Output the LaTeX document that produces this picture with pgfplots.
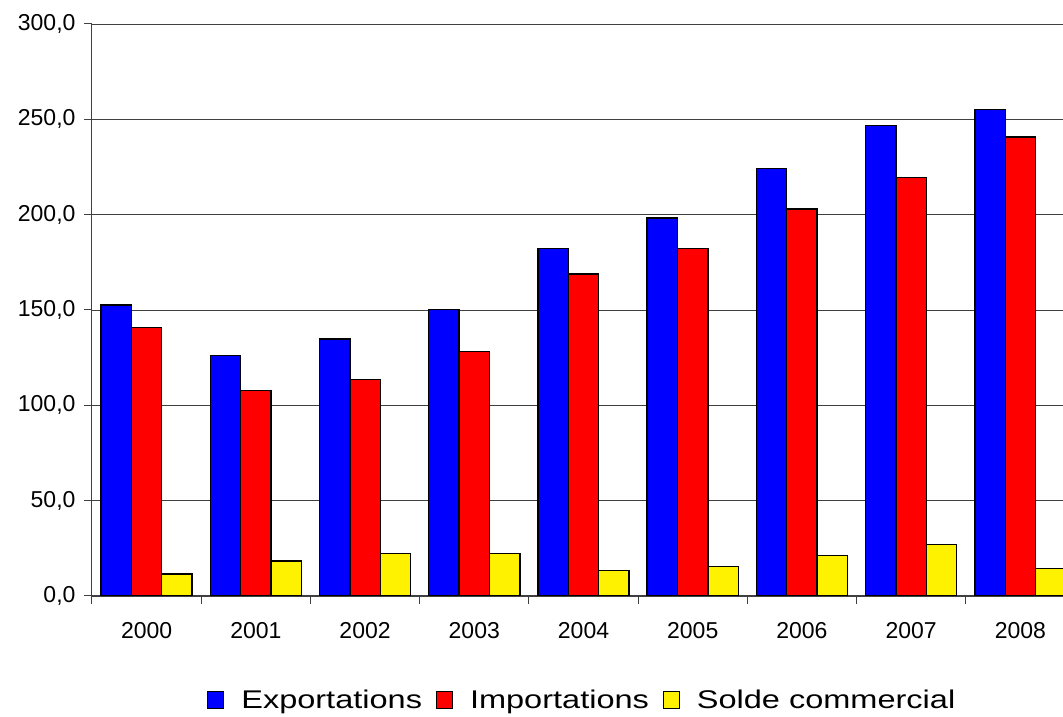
\documentclass[border=0pt]{standalone}
\usepackage{fontspec}
\setmainfont{Liberation Sans}
\usepackage{pgfplots}
\pgfplotsset{compat=1.18}

\begin{document}
\begin{tikzpicture}[x=1pt,y=1pt]
\path[use as bounding box] (-92,-121) rectangle (971,596);
\begin{axis}[
	at={(0,0)}, anchor=south west,
	scale only axis, width=971pt, height=572pt,
	ybar, bar width=0.278,
	every axis plot/.append style={
		draw=black, line width=1.4pt,
		legend image code/.code={\draw[##1,line width=1pt] (0pt,-8.5pt) rectangle (16pt,8.5pt);}
	},
	xmin=-0.5, xmax=8.39, ymin=0, ymax=300,
	xtick={0,...,8},
	xticklabels={2000,2001,2002,2003,2004,2005,2006,2007,2008},
	minor xtick={-0.5,0.5,...,8.5},
	major x tick style={draw=none},
	ytick={0,50,...,300},
	ymajorgrids, grid style={black!75, line width=0.9pt},
	axis x line*=bottom, axis y line*=left,
	axis line style={black!75, line width=1pt, -},
	tick style={black!75, line width=1pt},
	tick align=outside, major tick length=8pt, minor tick length=8pt,
	/pgf/number format/assume math mode=true,
	ticklabel style={font=\fontsize{23}{27}\selectfont},
	xticklabel style={yshift=-15pt},
	yticklabel style={xshift=-5pt, /pgf/number format/fixed, /pgf/number format/fixed zerofill,
		/pgf/number format/precision=1, /pgf/number format/use comma},
	legend style={at={(0.506,-0.182)}, anchor=center, draw=none,
		font=\fontsize{25.6}{30}\selectfont, legend columns=-1,
		nodes={inner xsep=4pt},
		/tikz/every even column/.append style={column sep=10pt},
		/tikz/every odd column/.append style={column sep=13pt}},
	legend cell align=left,
]
\addplot[fill=blue, bar shift=-0.278] coordinates {
	(0,152.7) (1,126.1) (2,134.8) (3,150.4) (4,182.4) (5,198.2) (6,224.2) (7,246.8) (8,255.3)};
\addplot[fill=red, bar shift=0] coordinates {
	(0,140.8) (1,107.8) (2,113.5) (3,128.2) (4,168.9) (5,182.4) (6,202.9) (7,219.5) (8,240.7)};
\addplot[fill=yellow, bar shift=0.278] coordinates {
	(0,11.5) (1,18.4) (2,22.2) (3,22.2) (4,13.5) (5,15.4) (6,21.2) (7,27.1) (8,14.4)};
\legend{\scalebox{1.27}[1]{Exportations},\scalebox{1.27}[1]{Importations},\scalebox{1.27}[1]{Solde commercial}}
\end{axis}
\end{tikzpicture}
\end{document}
